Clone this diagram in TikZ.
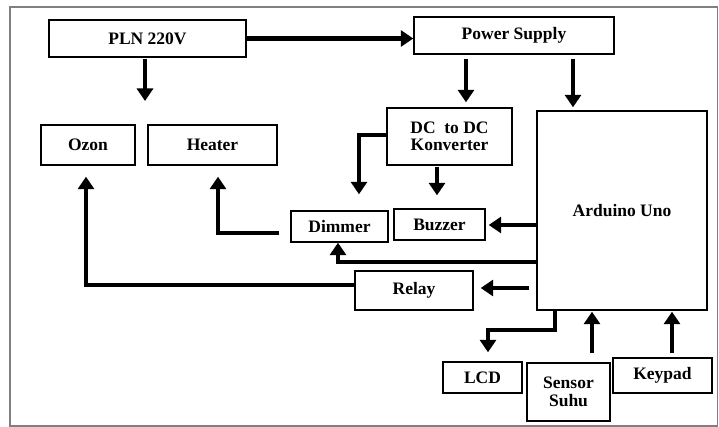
\documentclass[tikz,border=0pt]{standalone}
\usepackage{fontspec}
\setmainfont{Liberation Serif}
\usetikzlibrary{arrows.meta}
\begin{document}
\begin{tikzpicture}[x=1pt,y=-1pt,
  box/.style={draw,line width=1.4pt,inner sep=0pt,align=center,
    font=\fontsize{17.5}{17.5}\selectfont\bfseries},
  arr/.style={line width=4.2pt,-{Triangle[length=12.5pt,width=16pt]}}]
\useasboundingbox (0,0) rectangle (719,427);
\draw[line width=1.3pt,gray] (10,7) rectangle (717.5,426);
\node[box,minimum width=197pt,minimum height=37pt] (pln) at (147.5,38.5) {PLN 220V};
\node[box,minimum width=200pt,minimum height=37pt] (ps) at (514,35.5) {Power Supply};
\node[box,minimum width=94pt,minimum height=40pt] (ozon) at (88,145) {Ozon};
\node[box,minimum width=129pt,minimum height=40pt] (heater) at (212.5,145) {Heater};
\node[box,minimum width=125pt,minimum height=57pt] (dc) at (449.5,136.5) {DC\ \ to DC\\Konverter};
\node[box,minimum width=170pt,minimum height=199pt] (ard) at (622,210.5) {Arduino Uno};
\node[box,minimum width=97pt,minimum height=31pt] (dim) at (339.5,226.5) {Dimmer};
\node[box,minimum width=91pt,minimum height=31pt] (buz) at (439.5,224.5) {Buzzer};
\node[box,minimum width=118pt,minimum height=39pt] (relay) at (414,290.5) {Relay};
\node[box,minimum width=79pt,minimum height=31pt] (lcd) at (482.5,377.5) {LCD};
\node[box,minimum width=83pt,minimum height=58pt] (sens) at (568.5,392) {Sensor\\Suhu};
\node[box,minimum width=99pt,minimum height=35pt] (key) at (662.5,375.5) {Keypad};
\coordinate (plnend) at (145,101);
% connectors
\draw[arr] (pln.east) -- (pln.east -| ps.west);
\draw[arr,shorten <=1pt] (pln.south -| plnend) -- (plnend);
\draw[arr,shorten <=4pt,shorten >=5pt] (ps.south -| 466,0) -- (dc.north -| 466,0);
\draw[arr,shorten <=4pt,shorten >=3pt] (ps.south -| 573,0) -- (ard.north -| 573,0);
\draw[arr,shorten >=16pt] (dc.west |- 0,135) -- (359,135) -- (dim.north -| 359,0);
\draw[arr,shorten <=1pt,shorten >=13pt] (dc.south -| 437,0) -- (buz.north -| 437,0);
\draw[arr,shorten >=3pt] (ard.west |- 0,225) -- (buz.east |- 0,225);
\draw[arr] (ard.west |- 0,262) -- (338,262) -- (dim.south -| 338,0);
\draw[arr,shorten <=7pt,shorten >=7pt] (ard.west |- 0,288) -- (relay.east |- 0,288);
\draw[arr,shorten >=11pt] (relay.west |- 0,285) -- (86,285) -- (ozon.south -| 86,0);
\draw[arr,shorten <=11pt,shorten >=11pt] (dim.west |- 0,233) -- (218,233) -- (heater.south -| 218,0);
\draw[arr,shorten >=9pt] (ard.south -| 555,0) -- (555,330) -- (488,330) -- (lcd.north -| 488,0);
\draw[arr,shorten <=9pt,shorten >=1pt] (sens.north -| 592,0) -- (ard.south -| 592,0);
\draw[arr,shorten <=4pt,shorten >=1pt] (key.north -| 672,0) -- (ard.south -| 672,0);
\end{tikzpicture}
\end{document}
